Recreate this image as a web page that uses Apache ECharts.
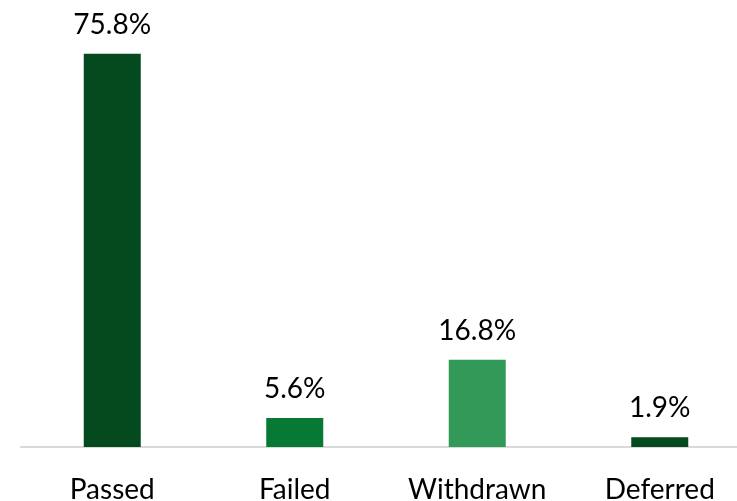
<!DOCTYPE html>
<html><head><meta charset="utf-8">
<script src="https://cdn.jsdelivr.net/npm/echarts@6/dist/echarts.min.js"></script>
<style>html,body{margin:0;padding:0;background:#fff}#c{width:737px;height:501px}</style>
</head><body><div id="c"></div>
<script>
const categories = ["Passed", "Failed", "Withdrawn", "Deferred"];
const values = [75.8, 5.6, 16.8, 1.9];
const colors = ["#054A1F", "#067A34", "#339959", "#054A1F"];
const chart = echarts.init(document.getElementById('c'));
chart.setOption({
  animation: false,
  grid: {left: 21, width: 730, top: 32, bottom: 54, outerBoundsMode: 'none', containLabel: false},
  xAxis: {
    type: 'category', data: categories,
    axisLine: {lineStyle: {color: '#D9D9D9', width: 2}},
    axisTick: {show: false},
    axisLabel: {color: '#000', fontSize: 28, fontFamily: 'Lato', margin: 29, interval: 0}
  },
  yAxis: {type: 'value', min: 0, max: 80, show: false, splitLine: {show: false}},
  series: [{
    type: 'bar', barWidth: 57,
    data: values.map((v, i) => ({value: v, itemStyle: {color: colors[i]}})),
    label: {show: true, position: 'top', distance: 15, color: '#000', fontSize: 28, fontFamily: 'Lato',
      formatter: p => p.value.toFixed(1) + '%'}
  }]
});
</script></body></html>
